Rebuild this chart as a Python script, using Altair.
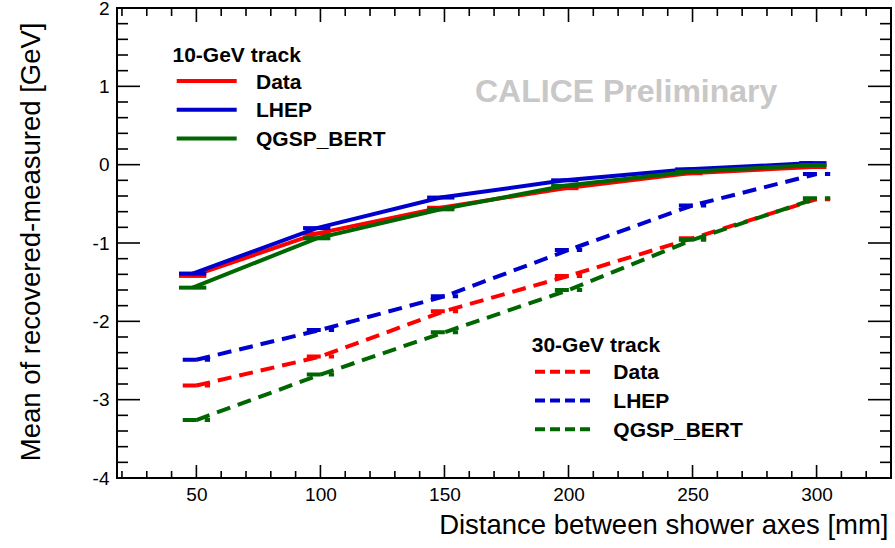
import altair as alt
import pandas as pd

# ---------------- data ----------------
dist_10 = [48.5, 98.5, 148.5, 198.5, 248.5, 298.5]
dist_30 = [50, 100, 150, 200, 250, 300]
x_half_err = 5.5

data_10 = [-1.42, -0.88, -0.55, -0.30, -0.11, -0.03]
lhep_10 = [-1.39, -0.81, -0.42, -0.20, -0.06, 0.02]
qgsp_10 = [-1.57, -0.94, -0.57, -0.27, -0.09, -0.005]

data_30 = [-2.82, -2.45, -1.87, -1.42, -0.94, -0.44]
lhep_30 = [-2.49, -2.11, -1.68, -1.09, -0.52, -0.12]
qgsp_30 = [-3.26, -2.68, -2.14, -1.60, -0.96, -0.43]

models = ["Data", "LHEP", "QGSP_BERT"]
colors = ["#ff0000", "#0000cc", "#006600"]

x_major = [50, 100, 150, 200, 250, 300]
x_minor = [20, 30, 40, 60, 70, 80, 90, 110, 120, 130, 140, 160, 170, 180, 190,
           210, 220, 230, 240, 260, 270, 280, 290, 310, 320]
y_major = [-4, -3, -2, -1, 0, 1, 2]
y_minor = [round(v / 5, 1) for v in range(-19, 10) if v % 5 != 0]

x_title = "Distance between shower axes [mm]"
y_title = "Mean of recovered-measured [GeV]"
watermark = "CALICE Preliminary"
legend_titles = ["10-GeV track", "30-GeV track"]

# ---------------- layout ----------------
W, H = 774, 470
FONT = "Liberation Sans"
DASH = [14, 8]

xs = alt.Scale(domain=[18, 330], nice=False, zero=False)
ys = alt.Scale(domain=[-4, 2], nice=False, zero=False)

x_axis = alt.Axis(values=x_major, ticks=False, tickSize=0, domain=False, grid=False,
                  labelFontSize=19, labelPadding=7, labelExpr="datum.value + ''",
                  title=x_title, titleFontSize=27.5, titleFontWeight="normal",
                  titleAnchor="end", titleAlign="right", titleBaseline="alphabetic",
                  titleX=771, titleY=55)
y_axis = alt.Axis(values=y_major, ticks=False, tickSize=0, domain=False, grid=False,
                  labelFontSize=19, labelPadding=8, labelExpr="datum.value + ''",
                  title=y_title, titleFontSize=27.5, titleFontWeight="normal",
                  titleAnchor="end", titleAlign="right", titleBaseline="alphabetic",
                  titleAngle=270, titleX=-78, titleY=14)


def X(f):
    return alt.X(f, type="quantitative", scale=xs, axis=x_axis)


def Y(f):
    return alt.Y(f, type="quantitative", scale=ys, axis=y_axis)


layers = []

# ---- ticks (ROOT style, inward on all four sides) ----
tick_style = dict(color="black", strokeWidth=1.6)
for vals, L in [(x_major, 13), (x_minor, 7)]:
    d = alt.Chart(pd.DataFrame({"t": vals}))
    layers.append(d.mark_rule(**tick_style).encode(x=X("t"), y=alt.value(H), y2=alt.value(H - L)))
for vals, L in [(x_major, 14), (x_minor, 8)]:
    d = alt.Chart(pd.DataFrame({"t": vals}))
    layers.append(d.mark_rule(**tick_style).encode(x=X("t"), y=alt.value(0), y2=alt.value(L)))
for vals, L in [(y_major, 23), (y_minor, 11)]:
    d = alt.Chart(pd.DataFrame({"t": vals}))
    layers.append(d.mark_rule(**tick_style).encode(y=Y("t"), x=alt.value(0), x2=alt.value(L)))
    layers.append(d.mark_rule(**tick_style).encode(y=Y("t"), x=alt.value(W), x2=alt.value(W - L)))

# ---- series ----
series = [
    (dist_10, data_10, colors[0], None),
    (dist_10, lhep_10, colors[1], None),
    (dist_10, qgsp_10, colors[2], None),
    (dist_30, data_30, colors[0], DASH),
    (dist_30, lhep_30, colors[1], DASH),
    (dist_30, qgsp_30, colors[2], DASH),
]
for dx, vy, c, dash in series:
    st = dict(color=c, strokeWidth=4)
    if dash:
        st["strokeDash"] = dash
    base = alt.Chart(pd.DataFrame({"d": dx, "v": vy}))
    layers.append(base.mark_line(**st).encode(x=X("d"), y=Y("v")))
    layers.append(
        base.transform_calculate(lo=f"datum.d - {x_half_err}", hi=f"datum.d + {x_half_err}")
        .mark_rule(**st).encode(x=X("lo"), x2="hi:Q", y=Y("v"))
    )

# ---- texts ----
one = pd.DataFrame({"a": [0]})


def text(s, x, y, size, color="black", weight="bold"):
    return alt.Chart(one).mark_text(text=s, font=FONT, fontSize=size, fontWeight=weight,
                                    color=color, align="left", baseline="alphabetic").encode(
        x=alt.value(x), y=alt.value(y))


layers.append(text(watermark, 358, 93.5, 32, color="#c8c8c8"))

# legends: (title x, title baseline, line x0, line x1, first row y, label x)
legend_pos = [(55.5, 53.7, 59.7, 119.7, 73.0, 139.0),
              (414.7, 343.7, 418.0, 478.0, 363.7, 496.3)]
for k, (tx, ty, lx0, lx1, ry, labx) in enumerate(legend_pos):
    layers.append(text(legend_titles[k], tx, ty, 21))
    for i, (m, c) in enumerate(zip(models, colors)):
        yy = ry + i * 28.8
        st = dict(color=c, strokeWidth=4)
        if k == 1:
            st["strokeDash"] = [10, 5]
        layers.append(alt.Chart(one).mark_rule(**st).encode(
            x=alt.value(lx0), x2=alt.value(lx1), y=alt.value(yy)))
        layers.append(text(m, labx, yy + 7.6, 21))

chart = alt.layer(*layers).properties(
    width=W, height=H,
    padding={"left": 117, "top": 8, "right": 4, "bottom": 70},
    autosize=alt.AutoSizeParams(type="none"),
    background="white",
).configure_view(stroke="black", strokeWidth=2).configure_axis(
    labelFont=FONT, titleFont=FONT, labelColor="black", titleColor="black"
)

chart.save("out.html", embed_options={"renderer": "svg", "actions": False})
